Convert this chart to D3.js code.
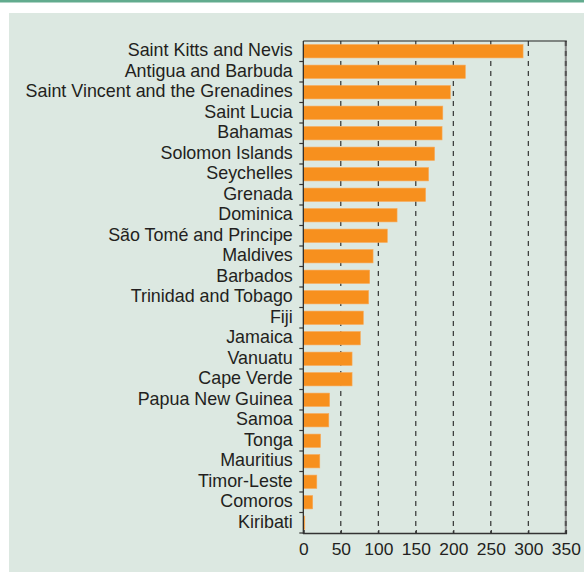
<!DOCTYPE html>
<html>
<head>
<meta charset="utf-8">
<script src="https://cdn.jsdelivr.net/npm/d3@7"></script>
<style>
  html, body { margin: 0; padding: 0; background: #ffffff; }
  svg { display: block; }
</style>
</head>
<body>
<svg id="chart" width="584" height="572"></svg>
<script>
const countries = [
  "Saint Kitts and Nevis", "Antigua and Barbuda", "Saint Vincent and the Grenadines",
  "Saint Lucia", "Bahamas", "Solomon Islands", "Seychelles", "Grenada", "Dominica",
  "São Tomé and Principe", "Maldives", "Barbados", "Trinidad and Tobago", "Fiji",
  "Jamaica", "Vanuatu", "Cape Verde", "Papua New Guinea", "Samoa", "Tonga",
  "Mauritius", "Timor-Leste", "Comoros", "Kiribati"
];
const values = [
  293, 216, 196, 186, 185, 175, 167, 163, 125,
  112, 93, 88.5, 87, 80,
  76, 65, 65, 35, 34, 23,
  22, 18, 12.5, 2
];
const xTicks = [0, 50, 100, 150, 200, 250, 300, 350];
const gridTicks = [50, 100, 150, 200, 250, 300];

(function () {
const svg = d3.select("#chart");

// header strip and panel
svg.append("rect").attr("x", 0).attr("y", 0).attr("width", 584).attr("height", 2.5).attr("fill", "#62ab8e");
svg.append("rect").attr("x", 9).attr("y", 13).attr("width", 575).attr("height", 559).attr("fill", "#dce8e1");

const pLeft = 303.3, pRight = 565.8, pTop = 41, pBottom = 533;
const x = d3.scaleLinear().domain([0, 350]).range([pLeft, pRight]);
const y = d3.scaleBand().domain(countries).range([pTop, pBottom]).paddingInner(0.35).paddingOuter(0.175);

// grid lines
svg.append("g").selectAll("line").data(gridTicks).join("line")
  .attr("x1", d => x(d)).attr("x2", d => x(d))
  .attr("y1", pTop).attr("y2", pBottom)
  .attr("stroke", "#222").attr("stroke-width", 1.1)
  .attr("stroke-dasharray", "5,5");

// right border (grey dashed, thick)
svg.append("line").attr("x1", x(350)).attr("x2", x(350)).attr("y1", pTop).attr("y2", pBottom)
  .attr("stroke", "#8a8a8a").attr("stroke-width", 2);
svg.append("line").attr("x1", x(350)).attr("x2", x(350)).attr("y1", pTop).attr("y2", pBottom)
  .attr("stroke", "#555").attr("stroke-width", 2).attr("stroke-dasharray", "5,5");

// top border
svg.append("line").attr("x1", pLeft).attr("x2", x(350) + 1).attr("y1", pTop).attr("y2", pTop)
  .attr("stroke", "#222").attr("stroke-width", 1.2);

// bars
svg.append("g").selectAll("rect").data(countries).join("rect")
  .attr("x", x(0))
  .attr("y", d => y(d))
  .attr("width", (d, i) => x(values[i]) - x(0))
  .attr("height", y.bandwidth())
  .attr("fill", "#f7901e")
  .attr("stroke", "#f9a855").attr("stroke-width", 0.6);

// left axis line and ticks at band boundaries
svg.append("line").attr("x1", pLeft).attr("x2", pLeft).attr("y1", pTop).attr("y2", pBottom + 1)
  .attr("stroke", "#222").attr("stroke-width", 1.2);
const boundaries = d3.range(1, countries.length + 1).map(i => pTop + i * y.step());
svg.append("g").selectAll("line").data(boundaries).join("line")
  .attr("x1", pLeft - 4).attr("x2", pLeft)
  .attr("y1", d => d).attr("y2", d => d)
  .attr("stroke", "#333").attr("stroke-width", 1.2);

// category labels
svg.append("g").selectAll("text").data(countries).join("text")
  .attr("x", pLeft - 10.5)
  .attr("y", d => y(d) + y.bandwidth() / 2)
  .attr("dy", "0.27em")
  .attr("text-anchor", "end")
  .attr("font-family", "'Liberation Sans', Arial, sans-serif")
  .attr("font-size", "17.9px")
  .attr("fill", "#231f20")
  .text(d => d);

// bottom axis
const xAxis = d3.axisBottom(x).tickValues(xTicks).tickSize(-3).tickPadding(10).tickFormat(d3.format("d"));
const gx = svg.append("g").attr("transform", `translate(0,${pBottom})`).call(xAxis);
gx.select(".domain").attr("stroke", "#333").attr("stroke-width", 1.6);
gx.selectAll(".tick line").attr("stroke", "#333").attr("stroke-width", 1.2);
gx.selectAll(".tick text")
  .attr("font-family", "'Liberation Sans', Arial, sans-serif")
  .attr("font-size", "17.4px")
  .attr("fill", "#231f20");
})();
</script>
</body>
</html>
